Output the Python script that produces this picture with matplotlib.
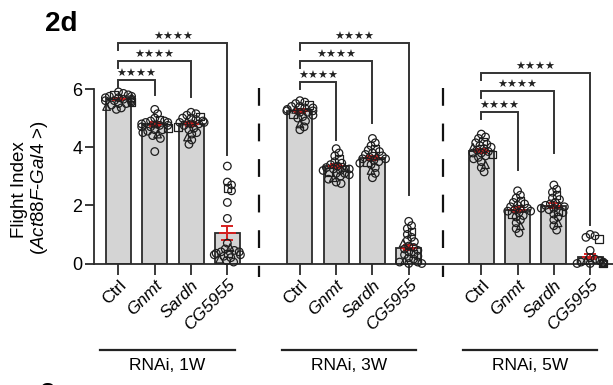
import numpy as np
import matplotlib
matplotlib.use('Agg')
import matplotlib.pyplot as plt
import matplotlib.transforms as mtransforms

plt.rcParams['font.family'] = 'sans-serif'
plt.rcParams['font.sans-serif'] = ['Liberation Sans']
plt.rcParams['mathtext.fontset'] = 'custom'
plt.rcParams['mathtext.rm'] = 'Liberation Sans'
plt.rcParams['mathtext.it'] = 'Liberation Sans:italic'

# ---------------- data ----------------
genotypes = ['Ctrl', 'Gnmt', 'Sardh', 'CG5955']
ages = ['RNAi, 1W', 'RNAi, 3W', 'RNAi, 5W']

# bar heights (mean flight index)
means_1w = [5.65, 4.8, 4.8, 1.05]
means_3w = [5.25, 3.35, 3.63, 0.55]
means_5w = [3.88, 1.85, 1.98, 0.24]

# individual flies
pts_1w = [
    [5.9, 5.85, 5.8, 5.8, 5.75, 5.75, 5.7, 5.7, 5.7, 5.65, 5.65, 5.6, 5.6, 5.6,
     5.55, 5.55, 5.5, 5.5, 5.45, 5.4, 5.35, 5.3],
    [5.3, 5.15, 5.0, 4.95, 4.9, 4.9, 4.85, 4.85, 4.8, 4.8, 4.75, 4.75, 4.7, 4.7,
     4.65, 4.6, 4.6, 4.55, 4.5, 4.45, 4.4, 4.3, 3.85],
    [5.2, 5.15, 5.1, 5.05, 5.0, 5.0, 4.95, 4.9, 4.9, 4.85, 4.85, 4.8, 4.8, 4.75,
     4.7, 4.65, 4.6, 4.5, 4.45, 4.35, 4.25, 4.1],
    [3.35, 2.8, 2.7, 2.6, 2.5, 2.1, 1.55, 0.7, 0.55, 0.5, 0.45, 0.4, 0.4, 0.35,
     0.35, 0.3, 0.3, 0.25, 0.2, 0.15, 0.1, 0.05],
]
pts_3w = [
    [5.6, 5.55, 5.5, 5.45, 5.4, 5.4, 5.35, 5.35, 5.3, 5.3, 5.25, 5.25, 5.2, 5.2,
     5.15, 5.1, 5.05, 5.0, 4.9, 4.8, 4.7, 4.6],
    [3.95, 3.8, 3.7, 3.6, 3.5, 3.45, 3.4, 3.35, 3.3, 3.3, 3.25, 3.25, 3.2, 3.2,
     3.15, 3.1, 3.1, 3.05, 3.0, 2.95, 2.9, 2.8, 2.75],
    [4.3, 4.15, 4.05, 3.95, 3.9, 3.85, 3.8, 3.75, 3.7, 3.7, 3.65, 3.6, 3.6, 3.55,
     3.5, 3.5, 3.45, 3.4, 3.3, 3.2, 3.1, 2.95],
    [1.45, 1.3, 1.2, 1.1, 1.0, 0.9, 0.8, 0.75, 0.7, 0.6, 0.55, 0.5, 0.45, 0.4,
     0.35, 0.3, 0.25, 0.2, 0.15, 0.1, 0.05, 0.05, 0.0, 0.0],
]
pts_5w = [
    [4.45, 4.35, 4.3, 4.2, 4.15, 4.1, 4.05, 4.0, 4.0, 3.95, 3.9, 3.85, 3.8, 3.8,
     3.75, 3.7, 3.65, 3.6, 3.5, 3.4, 3.3, 3.15],
    [2.5, 2.35, 2.25, 2.15, 2.1, 2.05, 2.0, 1.95, 1.9, 1.9, 1.85, 1.8, 1.8, 1.75,
     1.7, 1.65, 1.6, 1.5, 1.4, 1.3, 1.2, 1.05],
    [2.7, 2.55, 2.45, 2.35, 2.25, 2.2, 2.1, 2.05, 2.0, 2.0, 1.95, 1.9, 1.9, 1.85,
     1.8, 1.75, 1.7, 1.6, 1.5, 1.4, 1.3, 1.15],
    [1.0, 0.95, 0.9, 0.85, 0.45, 0.2, 0.15, 0.1, 0.1, 0.05, 0.05, 0.0, 0.0, 0.0,
     0.0, 0.0, 0.0, 0.0, 0.0, 0.0, 0.0, 0.0],
]

# significance brackets: (bracket height, bottom of right leg) for Gnmt, Sardh, CG5955
brackets_1w = [(6.31, 5.8), (6.96, 5.73), (7.58, 3.73)]
brackets_3w = [(6.24, 4.25), (6.96, 4.83), (7.58, 2.36)]
brackets_5w = [(5.21, 3.22), (5.93, 3.8), (6.55, 1.32)]
sig_label = '★★★★'

all_means = [means_1w, means_3w, means_5w]
all_pts = [pts_1w, pts_3w, pts_5w]
all_brackets = [brackets_1w, brackets_3w, brackets_5w]

# ---------------- layout ----------------
W, H = 613, 385
fig = plt.figure(figsize=(W / 100, H / 100), dpi=100)
ax = fig.add_axes([94 / W, 1 - 263.5 / H, 1 - 94 / W, (263.5 - 30) / H])
ax.set_xlim(-0.675, 13.63)
ax.set_ylim(0, 8.03)

px_x = 36.3   # pixels per x unit
px_y = 29.08  # pixels per y unit
group_start = [0, 5, 10]
dividers = [3.88, 8.94]
bar_w = 0.69
marker_cycle = ['o', 'o', 'o', 's', 'o', 'o', 'o', 'o', '^', 'o', 'o']


def swarm_offsets(vals, diam=5.0, lim=0.36):
    # simple beeswarm: place each point as close to the centre as possible
    order = np.argsort(vals)[::-1]
    placed = []
    offs = np.zeros(len(vals))
    for i in order:
        y = vals[i] * px_y
        best = 0.0
        for k in range(0, 60):
            for sgn in ([1] if k == 0 else [1, -1]):
                cand = sgn * k * 0.7
                if all((cand - px) ** 2 + (y - py) ** 2 >= diam ** 2 for px, py in placed):
                    best = cand
                    break
            else:
                continue
            break
        best = float(np.clip(best, -lim * px_x, lim * px_x))
        placed.append((best, y))
        offs[i] = best / px_x
    return offs


tick_pos = []
tick_lab = []
for g in range(3):
    x0 = group_start[g]
    for j in range(4):
        xc = x0 + j
        m = all_means[g][j]
        vals = np.array(all_pts[g][j])
        ax.bar(xc, m, width=bar_w, color='#d4d4d4', edgecolor='#2b2b2b', linewidth=1.3, zorder=2)
        sem = vals.std(ddof=1) / np.sqrt(len(vals))
        ax.errorbar(xc, m, yerr=sem, color='#d62020', capsize=4, capthick=1.4,
                    elinewidth=1.4, zorder=2.5)
        ax.plot([xc - 0.2, xc + 0.2], [m, m], color='#d62020', lw=1.4, zorder=2.5)
        offs = swarm_offsets(vals)
        for k, (v, o) in enumerate(zip(vals, offs)):
            ax.scatter(xc + o, v, s=30, marker=marker_cycle[k % len(marker_cycle)],
                       facecolor='none', edgecolor='#1e1e1e', linewidth=0.9, zorder=3, clip_on=False)
        tick_pos.append(xc)
        tick_lab.append(genotypes[j])

    # brackets
    for j, (yb, yl) in enumerate(all_brackets[g]):
        xa, xb = x0, x0 + j + 1
        ax.plot([xa, xa, xb, xb], [yb - 0.24, yb, yb, yl], color='#333333', lw=1.4,
                zorder=5, clip_on=False, solid_joinstyle='miter')
        ax.text((xa + xb) / 2, yb + 0.05, sig_label, ha='center', va='bottom',
                fontsize=8, family='DejaVu Sans', color='#222222')

for xd in dividers:
    ax.plot([xd, xd], [6.05, -0.45], color='#111111', lw=1.6,
            linestyle=(0, (8, 8)), clip_on=False, zorder=1)

# axes styling
for s in ['top', 'right']:
    ax.spines[s].set_visible(False)
ax.spines['left'].set_bounds(0, 6)
ax.spines['left'].set_linewidth(1.3)
ax.spines['bottom'].set_linewidth(1.3)
ax.spines['left'].set_color('#2b2b2b')
ax.spines['bottom'].set_color('#2b2b2b')
ax.set_yticks([0, 2, 4, 6])
ax.tick_params(axis='y', length=6.5, width=1.3, labelsize=13, pad=2, color='#2b2b2b')
ax.tick_params(axis='x', length=8, width=1.3, labelsize=12.5, pad=2, color='#2b2b2b')
ax.set_xticks(tick_pos)
ax.set_xticklabels(tick_lab, rotation=45, ha='right', rotation_mode='anchor')
for lab in ax.get_xticklabels():
    if lab.get_text() != 'Ctrl':
        lab.set_fontstyle('italic')

# y label (two lines)
fig.text(20 / W, 1 - 190 / H, 'Flight Index', rotation=90, ha='center', va='center', fontsize=13.5)
fig.text(40 / W, 1 - 188 / H, r'($\mathit{Act88F}$-$\mathit{Gal4}$ >)', rotation=90,
         ha='center', va='center', fontsize=13.5)

# group labels under the tick labels
trans = mtransforms.blended_transform_factory(ax.transData, fig.transFigure)
for g in range(3):
    x0 = group_start[g]
    line = plt.Line2D([x0 - 0.5, x0 + 3.2], [1 - 350 / H] * 2, transform=trans,
                      color='#222222', lw=1.6)
    fig.add_artist(line)
    fig.text(x0 + 1.35, 1 - 366 / H, ages[g], transform=trans, ha='center', va='center',
             fontsize=12.5)

# panel labels
fig.text(45 / W, 1 - 31 / H, '2d', fontsize=20, fontweight='bold', ha='left', va='baseline')
fig.text(40 / W, 1 - 402 / H, '2e', fontsize=20, fontweight='bold', ha='left', va='baseline')

fig.savefig('out.png', dpi=100)
